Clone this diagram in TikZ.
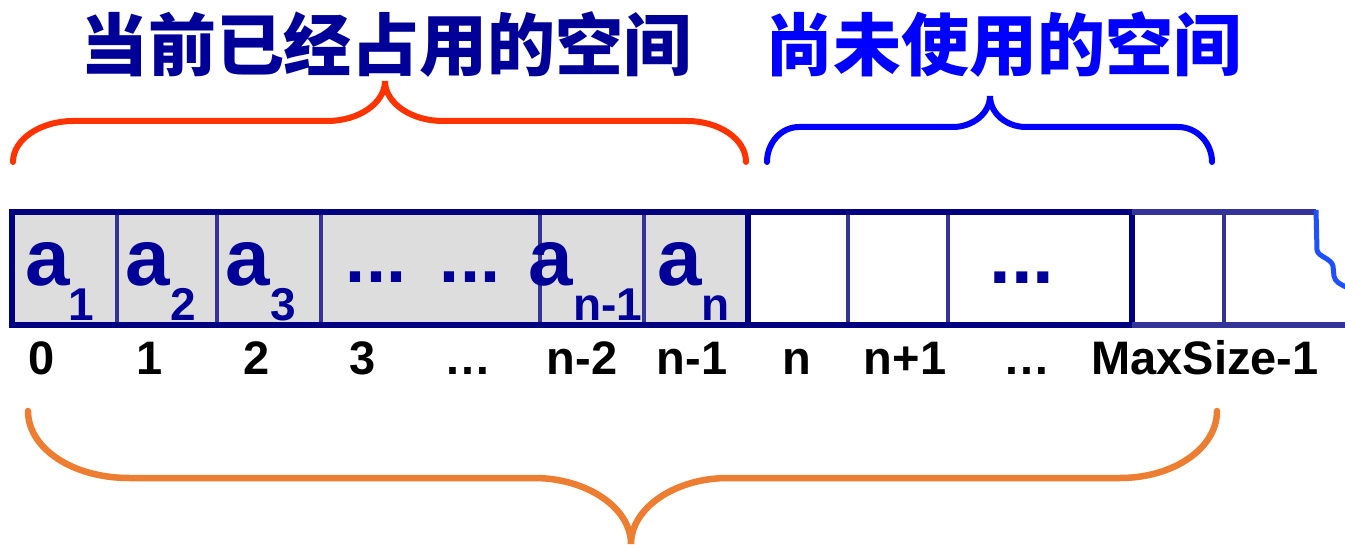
\documentclass[tikz,border=0pt]{standalone}
\usepackage{fontspec}
\setmainfont{Liberation Sans}
\newfontfamily\cjk{Noto Sans CJK SC}
\definecolor{navyline}{HTML}{000080}
\definecolor{navytext}{HTML}{000099}
\definecolor{divline}{HTML}{333399}
\definecolor{cellgray}{HTML}{DDDDDD}
\definecolor{bracered}{HTML}{FF3300}
\definecolor{braceblue}{HTML}{0000FF}
\definecolor{braceorange}{HTML}{ED7D31}
\definecolor{wavyblue}{HTML}{1F50FF}
\begin{document}
\begin{tikzpicture}[x=1pt,y=-1pt,
  txt/.style={inner sep=0pt,anchor=base},
  bigA/.style={txt,text=navytext,font=\fontsize{80}{80}\selectfont\bfseries},
  subA/.style={txt,text=navytext,font=\fontsize{46}{46}\selectfont\bfseries},
  dotsA/.style={txt,text=navytext,font=\fontsize{72}{72}\selectfont\bfseries},
  idx/.style={txt,text=black,font=\fontsize{47}{47}\selectfont\bfseries},
  title/.style={txt,font=\cjk\bfseries\fontsize{68}{68}\selectfont},
  outer/.style={draw=navyline,line width=6.5pt},
  divider/.style={draw=divline,line width=4.5pt},
  bracestyle/.style={line width=6pt,line cap=round}]
\useasboundingbox (0,0) rectangle (1345,545);

% titles
\node[title,text=navytext] (t1) at (386,71) {当前已经占用的空间};
\node[title,text=braceblue] (t2) at (1003,71) {尚未使用的空间};

% braces
\draw[bracestyle,draw=bracered] (13,162) .. controls (13,139) and (41,121) .. (73,121) -- (327,121)
  .. controls (359,121) and (385,103) .. (385,81)
  .. controls (385,103) and (411,121) .. (443,121) -- (687,121)
  .. controls (719,121) and (746,139) .. (746,162);
\draw[bracestyle,draw=braceblue] (767,162) .. controls (767,143) and (781,127) .. (799,127) -- (953,127)
  .. controls (973,127) and (990,113) .. (990,96)
  .. controls (990,113) and (1006,127) .. (1026,127) -- (1178,127)
  .. controls (1197,127) and (1212,143) .. (1212,162);
\draw[bracestyle,draw=braceorange,line width=6.5pt] (28,411) .. controls (28,448) and (72,478) .. (129,478) -- (534,478)
  .. controls (587,478) and (631,508) .. (631,544)
  .. controls (631,508) and (675,478) .. (728,478) -- (1120,478)
  .. controls (1174,478) and (1217,448) .. (1217,411);

% occupied cells
\fill[cellgray] (12,212) rectangle (748,325);
\foreach \x in {117,217,321,540,644,848,948} \draw[divider] (\x,209) -- (\x,328);
\draw[outer] (12,212) rectangle (748,325);
\draw[outer] (748,212) -- (1132,212) -- (1132,325) -- (748,325);
% tail of array
\draw[divider,line width=5.5pt] (1132,212) -- (1316,212);
\draw[divider,line width=5.5pt] (1132,325) -- (1345,325);
\draw[divider] (1224,209) -- (1224,328);
\draw[draw=wavyblue,line width=5pt,line join=round] (1316,210) -- (1317,250)
  .. controls (1318,257) and (1331,258) .. (1333,266) -- (1334,276)
  .. controls (1335,282) and (1340,284) .. (1346,287);

% cell contents
\node[bigA] (a1) at (48,286) {a};   \node[subA] (s1) at (81,321) {1};
\node[bigA] (a2) at (148,286) {a};  \node[subA] (s2) at (183,321) {2};
\node[bigA] (a3) at (248,286) {a};  \node[subA] (s3) at (283,321) {3};
\node[dotsA] (d1) at (376,283) {...};
\node[dotsA] (d2) at (470,283) {...};
\node[bigA] (an1) at (551,286) {a}; \node[subA] (sn1) at (608,321) {n-1};
\node[bigA] (an) at (680,286) {a};  \node[subA] (sn) at (716,321) {n};
\node[dotsA,font=\fontsize{78}{78}\selectfont\bfseries] (d3) at (1022,284) {...};

% indices
\node[idx] (i0) at (42,375) {0};
\node[idx] (i1) at (150,375) {1};
\node[idx] (i2) at (257,375) {2};
\node[idx] (i3) at (363,375) {3};
\node[idx] (i4) at (468,375) {…};
\node[idx] (i5) at (582,375) {n-2};
\node[idx] (i6) at (692,375) {n-1};
\node[idx] (i7) at (797,375) {n};
\node[idx] (i8) at (905,375) {n+1};
\node[idx] (i9) at (1027,375) {…};
\node[idx] (i10) at (1205,375) {MaxSize-1};
\end{tikzpicture}
\end{document}
